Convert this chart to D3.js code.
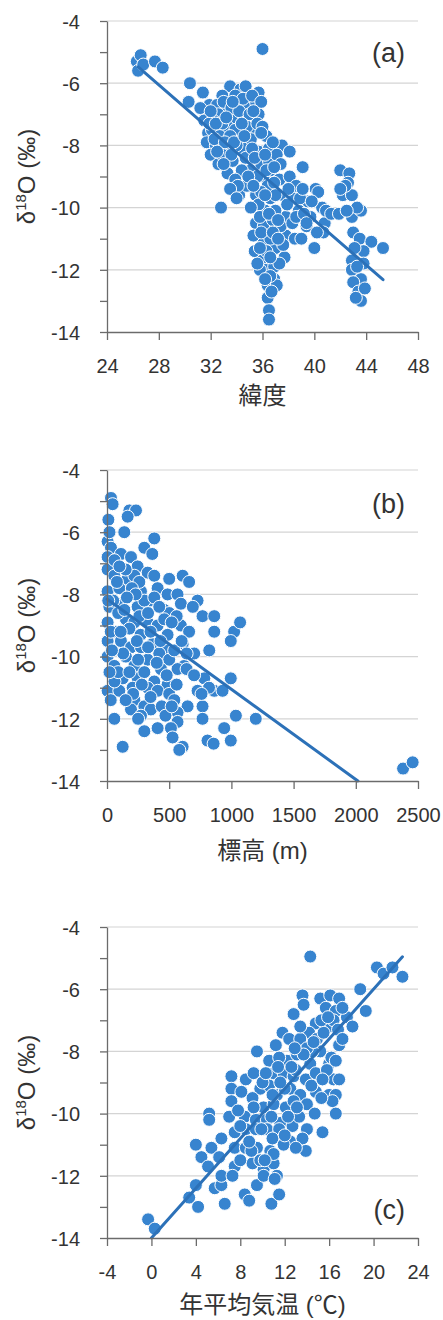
<!DOCTYPE html>
<html>
<head>
<meta charset="utf-8">
<script src="https://cdn.jsdelivr.net/npm/d3@7"></script>
<style>
  body { margin: 0; background: #fff; }
  svg text { font-family: "Liberation Sans", "Noto Sans CJK JP", sans-serif; fill: #333333; }
</style>
</head>
<body>
<svg id="chart" width="443" height="1320"></svg>
<script>
// (a) latitude vs d18O
const latPoints = [
  [26.3,-5.3],[26.6,-5.1],[26.4,-5.6],[26.8,-5.4],[27.7,-5.3],[28.3,-5.5],
  [36.0,-4.9],
  [30.4,-6.0],[30.3,-6.6],[31.4,-6.3],[31.9,-6.7],[31.6,-7.0],[31.2,-6.8],[31.5,-7.2],[31.8,-7.6],[31.7,-7.9],
  [33.5,-6.1],[34.3,-6.2],[34.7,-6.1],[35.7,-6.3],[32.9,-6.4],[32.5,-6.7],[33.3,-6.9],[34.1,-6.6],[34.8,-6.7],
  [35.5,-6.6],[35.7,-7.0],[32.6,-7.0],[33.8,-7.1],[34.6,-7.1],[33.3,-7.4],[32.1,-7.5],[35.4,-7.6],[36.3,-7.7],
  [35.1,-7.8],[34.3,-7.8],[32.4,-8.0],[33.4,-8.1],[34.5,-8.1],[35.7,-8.2],[36.5,-8.1],[37.5,-8.0],[38.1,-8.2],
  [32.0,-8.3],[32.6,-8.6],[33.3,-8.9],[33.7,-8.5],[34.7,-8.4],[35.1,-8.8],[35.9,-8.6],[36.5,-8.5],[36.1,-9.0],
  [34.2,-9.6],[34.8,-9.3],[35.5,-9.6],[36.4,-9.3],[37.3,-9.1],[38.1,-9.0],[39.1,-8.7],[38.6,-9.3],[40.1,-9.4],
  [39.5,-9.8],[40.6,-10.0],[40.8,-10.5],[40.0,-11.3],[38.8,-10.1],[37.8,-10.3],[37.0,-10.1],[36.2,-10.1],
  [35.5,-10.5],[36.1,-10.6],[37.0,-10.7],[37.8,-10.9],[38.5,-11.0],[39.4,-10.6],[35.4,-11.4],[36.1,-11.1],
  [37.0,-11.3],[37.7,-11.6],[36.0,-11.7],[36.2,-12.0],[35.8,-12.0],[36.9,-11.9],[36.9,-12.3],[36.4,-12.5],
  [36.4,-12.9],[36.5,-13.3],[36.5,-13.6],[32.8,-10.0],
  [33.0,-6.6],[33.9,-6.4],[34.5,-6.5],[35.2,-6.4],[35.9,-6.6],[33.6,-6.8],[34.2,-6.9],[35.0,-7.0],[32.2,-7.2],
  [32.9,-7.3],[33.9,-7.5],[34.8,-7.4],[35.6,-7.3],[36.0,-7.4],[32.7,-7.7],[33.5,-7.7],[34.0,-8.0],[35.2,-8.1],
  [36.8,-7.9],[37.1,-8.3],[36.6,-8.8],[37.4,-8.6],[36.9,-9.2],[35.6,-9.0],[34.4,-8.8],[33.9,-9.1],[32.9,-8.3],
  [35.9,-9.5],[36.6,-9.7],[37.6,-9.6],[38.3,-9.7],[35.7,-9.9],[35.1,-10.0],[36.8,-10.4],[37.4,-10.6],[35.3,-10.9],
  [36.6,-11.0],[36.3,-11.4],[37.3,-11.8],[35.6,-11.8],[37.1,-12.5],[36.6,-12.2],[33.6,-8.3],[31.9,-7.3],[32.3,-7.8],
  [33.1,-7.9],[38.9,-9.7],[39.7,-10.3],[40.3,-10.8],[38.3,-10.5],[39.0,-11.0],[37.6,-11.2],
  [32.0,-6.9],[32.4,-7.3],[33.2,-7.1],[33.7,-6.6],[34.4,-7.3],[35.3,-6.9],[35.9,-7.6],[33.0,-8.6],[33.8,-7.9],
  [34.6,-7.7],[35.4,-8.4],[36.2,-8.3],[34.1,-9.3],[34.9,-9.0],[35.3,-9.3],[36.3,-8.8],[36.9,-8.7],[37.0,-9.6],
  [36.2,-9.6],[35.8,-10.3],[36.5,-10.2],[37.2,-10.4],[35.9,-10.8],[36.8,-10.8],[35.8,-11.3],[36.6,-11.6],
  [37.2,-11.0],[36.2,-12.3],[36.7,-12.7],[33.5,-9.4],[34.0,-9.7],[32.5,-8.2],[38.0,-9.4],[38.6,-10.3],[37.9,-9.9],
  [39.2,-10.2],
  [42.0,-8.8],[42.7,-8.9],[42.6,-9.2],[42.2,-9.6],[42.9,-9.6],[40.3,-9.5],[39.1,-9.4],[39.8,-9.8],[40.9,-10.1],
  [41.3,-10.2],[41.9,-10.2],[42.9,-10.3],[43.6,-10.1],[43.0,-10.8],[43.5,-11.0],[44.4,-11.1],[45.3,-11.3],
  [43.8,-11.4],[40.7,-10.8],[42.9,-11.7],[42.9,-12.0],[43.6,-12.3],[43.0,-12.4],[43.4,-12.7],[43.6,-13.0],
  [39.4,-10.5],[40.2,-10.8],[42.4,-9.3],[43.8,-11.8],[43.3,-10.0],[42.0,-9.4],[42.5,-10.1],[43.1,-11.3],
  [43.3,-11.9],[43.9,-12.6],[43.2,-12.9]
];
const latFit = [4.08, -0.362];      // intercept, slope
const latFitRange = [26.4, 45.3];
const latTicks = [24, 28, 32, 36, 40, 44, 48];

// (b) elevation vs d18O
const elevPoints = [
  [32,-4.9],[45,-5.1],[11,-5.6],[180,-5.3],[233,-5.3],[166,-5.5],[139,-6.0],[380,-6.2],[5,-6.3],[32,-6.5],
  [5,-6.8],[112,-6.7],[193,-6.8],[300,-6.5],[364,-6.7],[246,-7.1],[5,-7.2],[59,-7.4],[166,-7.5],[220,-7.4],
  [327,-7.3],[380,-7.4],[500,-7.5],[608,-7.4],[660,-7.6],[5,-7.9],[99,-7.8],[273,-7.9],[407,-7.8],[487,-8.0],
  [567,-8.0],[728,-8.2],[19,-8.4],[112,-8.3],[246,-8.4],[340,-8.2],[460,-8.5],[594,-8.3],[500,-8.6],[768,-8.7],
  [862,-8.7],[5,-8.9],[72,-9.2],[152,-8.8],[220,-8.9],[327,-8.9],[407,-9.0],[487,-9.3],[594,-9.0],[660,-9.2],
  [862,-9.2],[1022,-9.2],[1070,-8.9],[995,-9.5],[5,-9.5],[112,-9.5],[193,-9.7],[273,-9.7],[364,-9.6],[487,-9.8],
  [608,-9.6],[701,-9.9],[822,-9.8],[5,-10.0],[152,-10.0],[327,-10.1],[420,-9.9],[500,-10.1],[621,-10.3],
  [59,-10.3],[220,-10.3],[434,-10.4],[567,-10.4],[126,-10.7],[246,-10.7],[380,-10.8],[487,-10.9],[782,-10.7],
  [995,-10.7],[5,-11.1],[99,-11.1],[206,-11.0],[327,-11.0],[407,-11.1],[500,-11.2],[728,-11.1],[862,-11.1],
  [929,-11.1],[220,-11.4],[300,-11.6],[353,-11.7],[541,-11.4],[648,-11.6],[768,-11.6],[193,-11.7],[59,-12.0],
  [273,-11.9],[567,-11.8],[567,-12.1],[768,-12.0],[1036,-11.9],[1196,-12.0],[300,-12.4],[407,-12.3],[514,-12.3],
  [527,-12.6],[942,-12.3],[995,-12.7],[126,-12.9],[608,-12.9],[581,-13.0],[808,-12.7],[857,-12.8],
  [2380,-13.6],[2457,-13.4],
  [150,-7.2],[260,-7.6],[90,-8.6],[180,-9.1],[270,-9.3],[350,-9.2],[130,-9.9],[250,-10.1],[300,-10.5],
  [210,-11.2],[60,-10.8],[40,-9.8],[80,-7.6],[300,-8.2],[380,-8.1],[560,-8.7],[430,-9.5],[640,-10.4],[560,-10.9],
  [20,-6.0],[60,-6.9],[100,-7.1],[200,-7.8],[230,-8.0],[160,-8.1],[50,-8.2],[140,-8.5],[260,-8.7],[330,-8.6],
  [420,-8.4],[460,-8.8],[30,-9.2],[110,-9.2],[240,-9.5],[330,-9.7],[400,-10.2],[90,-10.5],[180,-10.5],
  [280,-10.9],[350,-11.3],[150,-11.4],[440,-11.6],[470,-11.9],[640,-9.9],[700,-10.6],[820,-11.0],[760,-11.2],
  [30,-11.4],[20,-10.5],[10,-8.2],[250,-12.0],[520,-11.6],[480,-10.6],[540,-9.8],[600,-9.5],[690,-8.4],[520,-8.9]
];
const elevFit = [-8.15, -0.0029];
const elevFitRange = [0, 2017];
const elevTicks = [0, 500, 1000, 1500, 2000, 2500];

// (c) annual mean temperature vs d18O
const tempPoints = [
  [14.3,-4.95],[20.3,-5.3],[20.9,-5.5],[21.7,-5.3],[22.6,-5.6],[18.8,-6.0],[19.3,-6.7],[13.6,-6.2],[13.7,-6.5],
  [12.8,-6.8],[15.2,-6.3],[16.1,-6.2],[16.9,-6.3],[15.7,-6.6],[16.6,-6.7],[17.6,-6.9],[14.8,-7.1],[14.2,-7.4],
  [16.0,-7.2],[18.1,-7.2],[16.9,-7.8],[11.8,-7.4],[12.4,-7.6],[13.4,-7.6],[14.9,-7.6],[9.5,-8.0],[11.2,-7.8],
  [12.2,-8.3],[13.1,-8.1],[14.3,-8.4],[15.2,-8.0],[16.0,-8.4],[10.6,-8.3],[11.0,-8.7],[11.9,-8.7],[12.8,-8.8],
  [13.9,-8.9],[14.8,-8.7],[16.4,-8.9],[7.2,-8.8],[8.5,-8.9],[9.2,-8.7],[7.2,-9.2],[8.1,-9.3],[9.8,-9.2],
  [10.6,-9.1],[11.3,-9.4],[12.5,-9.2],[13.4,-9.4],[14.8,-9.3],[16.0,-9.4],[16.6,-9.4],[7.2,-9.6],[9.1,-9.5],
  [10.1,-9.8],[11.0,-9.7],[12.1,-9.8],[12.8,-9.6],[14.0,-9.7],[16.3,-9.6],[16.6,-10.0],[5.2,-10.0],[5.2,-10.2],
  [7.0,-10.1],[8.4,-10.1],[9.4,-10.2],[10.4,-10.2],[11.6,-10.3],[12.7,-10.4],[14.0,-10.5],[15.4,-10.6],
  [6.3,-10.8],[7.5,-10.6],[8.5,-10.5],[9.4,-10.5],[10.4,-10.5],[11.5,-10.5],[12.5,-10.9],[13.6,-10.8],
  [13.9,-11.2],[4.0,-11.0],[4.5,-11.4],[5.4,-11.1],[7.5,-11.1],[8.5,-11.1],[9.5,-11.1],[10.7,-11.2],[5.1,-11.7],
  [6.1,-11.4],[7.5,-11.7],[9.1,-11.6],[10.1,-11.8],[11.0,-11.6],[11.3,-12.0],[4.0,-12.3],[3.4,-12.7],[5.7,-12.4],
  [6.3,-12.3],[6.3,-12.0],[7.3,-12.0],[9.5,-12.3],[10.1,-12.0],[8.4,-12.6],[8.8,-12.8],[6.6,-12.9],[10.8,-12.9],
  [11.5,-12.6],[4.2,-13.0],[-0.3,-13.4],[0.3,-13.7],
  [12.0,-9.2],[13.0,-8.6],[14.5,-8.0],[15.5,-7.4],[16.4,-7.0],[11.5,-8.2],[10.0,-9.0],[13.3,-10.1],[10.9,-10.8],
  [9.8,-11.5],[8.0,-11.5],[11.9,-11.0],[17.2,-6.6],[14.0,-7.9],[15.8,-8.6],
  [10.9,-9.4],[11.6,-9.0],[12.6,-8.5],[13.7,-8.1],[14.6,-7.7],[15.3,-7.0],[15.9,-6.9],[16.8,-7.3],[17.2,-7.6],
  [13.4,-7.2],[12.9,-7.9],[11.4,-8.5],[10.3,-8.7],[9.2,-9.8],[9.9,-10.5],[10.8,-10.1],[12.3,-10.1],[13.1,-9.8],
  [14.4,-9.1],[15.4,-8.9],[16.2,-8.2],[14.7,-10.0],[15.3,-9.5],[12.0,-10.7],[11.0,-11.3],[9.0,-11.2],[8.0,-10.4],
  [7.8,-9.9],[10.2,-11.5],[11.1,-12.1],[8.8,-10.9],[13.0,-11.1],[16.9,-8.9],[16.6,-8.3]
];
const tempFit = [-14.0, 0.40];
const tempFitRange = [0, 22.6];
const tempTicks = [-4, 0, 4, 8, 12, 16, 20, 24];

const yDomain = [-14, -4];
const yMajor = [-14, -12, -10, -8, -6, -4];
const yMinor = d3.range(-14, -3, 1);

const panels = [
  { pts: latPoints, fit: latFit, range: latFitRange, ticks: latTicks, top: 21,
    title: '緯度', tag: '(a)', tagY: 62, titleY: 404 },
  { pts: elevPoints, fit: elevFit, range: elevFitRange, ticks: elevTicks, top: 470,
    title: '標高 (m)', tag: '(b)', tagY: 513, titleY: 859 },
  { pts: tempPoints, fit: tempFit, range: tempFitRange, ticks: tempTicks, top: 927,
    title: '年平均気温 (℃)', tag: '(c)', tagY: 1219, titleY: 1313 }
];

const left = 107, right = 418, h = 311;
const dotColor = '#3784cf', lineColor = '#2c71b8', axisColor = '#6b6b6b';
const svg = d3.select('#chart');

panels.forEach(p => {
  const x = d3.scaleLinear()
    .domain(d3.extent(p.ticks))
    .range([left, right]);
  const y = d3.scaleLinear()
    .domain(yDomain)
    .range([p.top + h, p.top]);

  const g = svg.append('g');

  // gridlines
  g.append('g')
    .selectAll('line')
    .data(yMajor.slice(1))
    .join('line')
    .attr('x1', left)
    .attr('x2', right)
    .attr('y1', d => y(d))
    .attr('y2', d => y(d))
    .attr('stroke', '#d4d4d4')
    .attr('stroke-width', 1.2);

  // dots
  g.append('g')
    .selectAll('circle')
    .data(p.pts)
    .join('circle')
    .attr('cx', d => x(d[0]))
    .attr('cy', d => y(d[1]))
    .attr('r', 6.5)
    .attr('fill', dotColor)
    .attr('stroke', '#ffffff')
    .attr('stroke-width', 1);

  // trend line
  g.append('line')
    .attr('x1', x(p.range[0]))
    .attr('y1', y(p.fit[0] + p.fit[1] * p.range[0]))
    .attr('x2', x(p.range[1]))
    .attr('y2', y(p.fit[0] + p.fit[1] * p.range[1]))
    .attr('stroke', lineColor)
    .attr('stroke-width', 3)
    .attr('stroke-linecap', 'round');

  // y axis
  const yAxis = g.append('g')
    .attr('transform', `translate(${left},0)`)
    .call(d3.axisLeft(y)
      .tickValues(yMinor)
      .tickSize(7)
      .tickSizeOuter(0)
      .tickFormat(d => (d % 2 === 0 ? d3.format('d')(d).replace('−', '-') : '')));
  yAxis.select('.domain').attr('stroke', axisColor).attr('stroke-width', 1.3);
  yAxis.selectAll('.tick line').attr('stroke', axisColor).attr('stroke-width', 1.3);
  yAxis.selectAll('.tick text')
    .attr('x', -27)
    .attr('dy', '0.36em')
    .style('font-size', '20px');

  // x axis
  const xAxis = g.append('g')
    .attr('transform', `translate(0,${p.top + h})`)
    .call(d3.axisBottom(x)
      .tickValues(p.ticks)
      .tickSize(8)
      .tickSizeOuter(0)
      .tickFormat(d => String(d)));
  xAxis.select('.domain').attr('stroke', axisColor).attr('stroke-width', 1.3);
  xAxis.selectAll('.tick line').attr('stroke', axisColor).attr('stroke-width', 1.3);
  xAxis.selectAll('.tick text')
    .attr('y', 41)
    .attr('dy', null)
    .style('font-size', '20px');

  // axis titles
  g.append('text')
    .attr('x', (left + right) / 2)
    .attr('y', p.titleY)
    .attr('text-anchor', 'middle')
    .style('font-size', '24px')
    .text(p.title);

  const yt = g.append('text')
    .attr('transform', `translate(35,${p.top + h / 2}) rotate(-90)`)
    .attr('text-anchor', 'middle')
    .style('font-size', '24px');
  yt.append('tspan').text('δ');
  yt.append('tspan').attr('dy', -9).style('font-size', '15px').text('18');
  yt.append('tspan').attr('dy', 9).text('O (‰)');

  // panel tag
  g.append('text')
    .attr('x', 405)
    .attr('y', p.tagY)
    .attr('text-anchor', 'end')
    .style('font-size', '27px')
    .text(p.tag);
});
</script>
</body>
</html>
